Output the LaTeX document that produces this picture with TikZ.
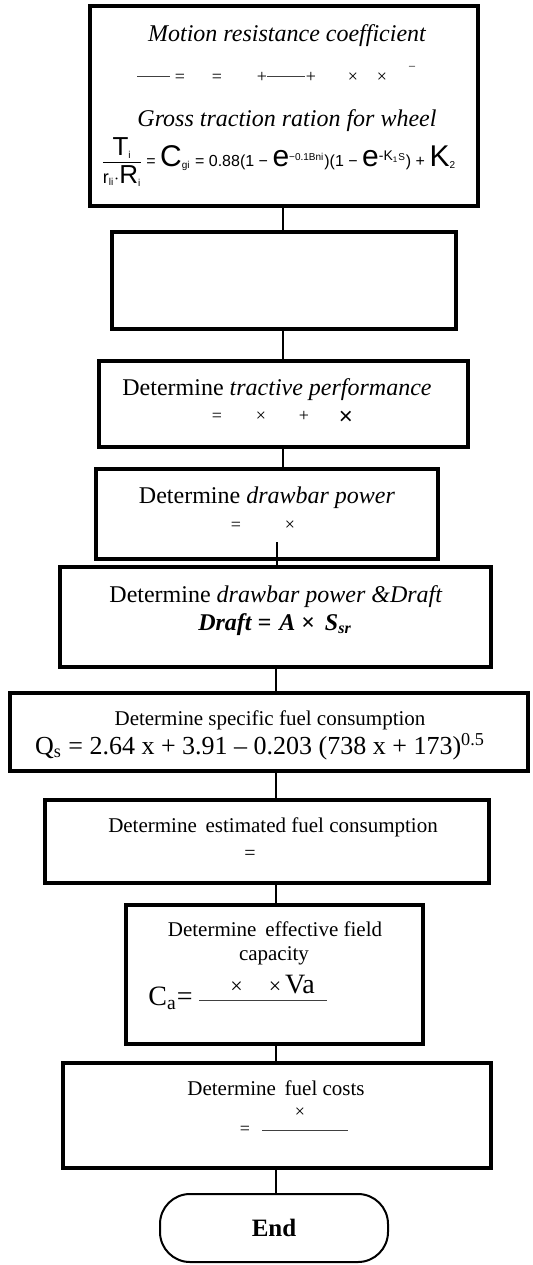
\documentclass[tikz,border=0pt]{standalone}
\usepackage{fontspec}
\setmainfont{Liberation Serif}
\newfontfamily\arialfont{Liberation Sans}

\begin{document}
\begin{tikzpicture}[x=0.5pt, y=-0.5pt,
    stepbox/.style={draw, line width=1.6pt, inner sep=0pt, outer sep=0pt},
    link/.style={line width=0.8pt},
    bar/.style={line width=0.5pt, black!75},
    txt/.style={inner sep=0pt, anchor=base, font=\fontsize{12}{14}\selectfont},
    smalltxt/.style={inner sep=0pt, anchor=base, font=\fontsize{10.5}{12}\selectfont},
    sym/.style={inner sep=0pt, anchor=base, font=\fontsize{9}{10}\selectfont}]

    \useasboundingbox (0,0) rectangle (533,1265);

    % Spine of the connectors
    \coordinate (sU) at (283,0);
    \coordinate (sL) at (276,0);

    % Boxes of the chart
    \node[stepbox, minimum width=194pt, minimum height=100pt] (motion) at (284,106) {};
    \node[stepbox, minimum width=172pt, minimum height=48.5pt] (blank) at (284,280.5) {};
    \node[stepbox, minimum width=184.5pt, minimum height=43pt] (tractive) at (283.5,404) {};
    \node[stepbox, minimum width=171pt, minimum height=45pt] (drawbar) at (267,514) {};
    \node[stepbox, minimum width=215.5pt, minimum height=50pt] (draft) at (275.5,617) {};
    \node[stepbox, minimum width=259pt, minimum height=39pt] (specific) at (269,732) {};
    \node[stepbox, minimum width=222pt, minimum height=41.5pt] (estimated) at (267,841.5) {};
    \node[stepbox, minimum width=148.5pt, minimum height=69.5pt] (capacity) at (274.5,974.5) {};
    \node[stepbox, minimum width=214pt, minimum height=52.5pt] (costs) at (277,1115.5) {};
    \node[stepbox, line width=1pt, rounded corners=15pt, minimum width=114pt,
          minimum height=34pt, font=\fontsize{12.5}{14}\selectfont\bfseries] (finish) at (274,1228) {End};

    % Motion resistance and gross traction
    \node[txt] (motiontitle) at (287,41) {\itshape Motion resistance coefficient};
    \draw[bar] (137,76) -- (170,76);
    \node[sym] (m1) at (180,82) {=};
    \node[sym] (m2) at (217,82) {=};
    \node[sym] (m3) at (262,82) {+};
    \draw[bar] (267,76) -- (305,76);
    \node[sym] (m4) at (311,82) {+};
    \node[sym] (m5) at (353,82) {×};
    \node[sym] (m6) at (382,82) {×};
    \node[sym, font=\fontsize{6}{6}\selectfont] (m7) at (412,69) {–};
    \node[txt] (grosstitle) at (287,126) {\itshape Gross traction ration for wheel};
    \node[inner sep=0pt, anchor=west] (gross) at (100,162) {\arialfont\fontsize{8}{9}\selectfont
        $\displaystyle\frac{\mbox{\fontsize{13}{14}\selectfont T\textsubscript{\fontsize{5}{5}\selectfont i}}}%
        {\mbox{\fontsize{9}{10}\selectfont r\textsubscript{\fontsize{5}{5}\selectfont li}$\cdot$\fontsize{13}{14}\selectfont R\textsubscript{\fontsize{5}{5}\selectfont i}}}$%
        \,= {\fontsize{15}{15}\selectfont C}\textsubscript{\fontsize{5}{5}\selectfont gi} = 0.88(1 − {\fontsize{15}{15}\selectfont e}\textsuperscript{\fontsize{5}{5}\selectfont −0.1Bni})(1 − {\fontsize{15}{15}\selectfont e}\textsuperscript{\fontsize{7}{7}\selectfont -K\textsubscript{\fontsize{4}{4}\selectfont 1}\fontsize{5}{5}\selectfont S}) + {\fontsize{15}{15}\selectfont K}\textsubscript{\fontsize{5}{5}\selectfont 2}};

    % Tractive performance
    \node[txt] (tractivetitle) at (277,395) {Determine \textit{tractive performance}};
    \node[sym] (t1) at (217,421) {=};
    \node[sym] (t2) at (261,421) {×};
    \node[sym] (t3) at (304,421) {+};
    \node[sym, font=\arialfont\fontsize{12}{12}\selectfont] (t4) at (346,424) {×};

    % Drawbar power
    \node[txt] (drawbartitle) at (267,503) {Determine \textit{drawbar power}};
    \node[sym] (d1) at (236,530) {=};
    \node[sym] (d2) at (290,530) {×};

    % Drawbar power and draft
    \node[txt] (drafttitle) at (276,602) {Determine \textit{drawbar power \&Draft}};
    \node[txt] (draftrule) at (275,630) {\textbf{\textit{Draft =\,\,A} × \,\textit{S\textsubscript{sr}}}};

    % Specific fuel consumption
    \node[smalltxt] (specifictitle) at (270,725) {Determine specific fuel consumption};
    \node[txt, font=\fontsize{13}{15}\selectfont] (qs) at (260,754) {Q\textsubscript{s} = 2.64 x + 3.91 – 0.203 (738 x + 173)\textsuperscript{0.5}};

    % Estimated fuel consumption
    \node[smalltxt] (estimatedtitle) at (273,832) {Determine\, estimated fuel consumption};
    \node[sym, font=\fontsize{10}{10}\selectfont] (e1) at (250,859) {=};

    % Effective field capacity
    \node[smalltxt] (capacitytitle) at (275,936) {Determine\, effective field};
    \node[smalltxt] (capacityword) at (274,960) {capacity};
    \node[txt, anchor=base west, font=\fontsize{14}{15}\selectfont] (ca) at (148,1005) {C\textsubscript{a}=};
    \draw[bar] (199,1000) -- (327,1000);
    \node[sym, anchor=base west, font=\fontsize{11}{12}\selectfont] (cnum) at (230,993)
        {×\hspace{13pt}×\hspace{2pt}{\fontsize{14}{15}\selectfont Va}};

    % Fuel costs
    \node[smalltxt] (coststitle) at (276,1095) {Determine\, fuel costs};
    \node[sym] (c1) at (245,1134) {=};
    \draw[bar] (262,1130) -- (348,1130);
    \node[sym] (c2) at (300,1117) {×};

    % Connectors
    \draw[link] (motion.south -| sU) -- (blank.north -| sU);
    \draw[link] (blank.south -| sU) -- (tractive.north -| sU);
    \draw[link] (tractive.south -| sU) -- (drawbar.north -| sU);
    \coordinate (dstub) at (277,542);
    \draw[link] (dstub) -- (draft.north -| dstub);
    \draw[link] (draft.south -| sL) -- (specific.north -| sL);
    \draw[link] (specific.south -| sL) -- (estimated.north -| sL);
    \draw[link] (estimated.south -| sL) -- (capacity.north -| sL);
    \draw[link] (capacity.south -| sL) -- (costs.north -| sL);
    \draw[link] (costs.south -| sL) -- (finish.north -| sL);

\end{tikzpicture}
\end{document}
